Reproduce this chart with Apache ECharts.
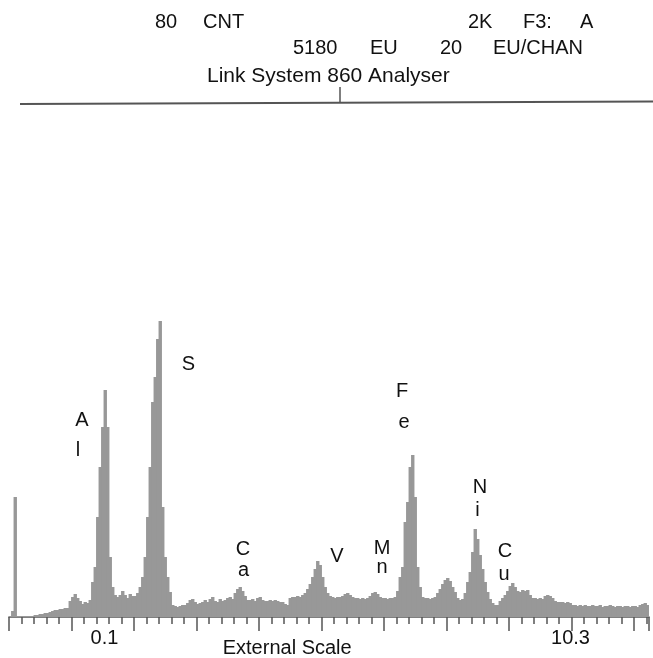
<!DOCTYPE html>
<html><head><meta charset="utf-8">
<script src="https://cdn.jsdelivr.net/npm/echarts@6/dist/echarts.min.js"></script>
<style>html,body{margin:0;padding:0;background:#fff}#c{width:653px;height:658px}</style>
</head><body><div id="c"></div>
<script>
// counts per channel (spectrum histogram)
const counts = [
  1, 6, 120,
  1,1,1,1,1,1,1,2,2,3,
  3,4,4,5,
  6,7,7,8,8,9,9,
  16,20,23,19,16,
  13,15,14,17,
  35,50,100,150,190,227,190,60,30,
  22,20,22,26,22,19,23,21,21,24,
  30,40,60,100,150,215,240,278,296,110,60,40,25,
  12,11,10,11,12,12,14,17,18,15,13,14,15,17,15,18,20,16,15,18,16,17,19,20,
  18,24,28,30,26,21,17,
  17,18,16,19,20,17,16,16,17,16,17,16,15,15,13,12,
  19,20,20,21,20,22,24,
  28,33,40,48,56,52,40,30,24,
  21,20,19,20,20,21,23,24,22,20,19,19,18,19,18,19,
  21,24,25,23,20,
  19,19,18,19,19,20,26,
  40,50,95,115,150,162,120,50,30,
  20,19,19,18,19,20,
  24,28,33,37,39,36,30,25,19,
  17,18,
  24,35,45,65,88,78,62,48,35,25,18,14,12,12,
  16,19,22,26,31,34,30,26,25,27,26,27,22,
  19,19,18,19,18,
  21,22,21,19,
  16,15,15,15,14,15,14,
  12,12,11,12,11,12,11,11,12,11,11,12,10,11,11,12,11,10,11,11,10,11,11,10,11,11,10,12,13,14,12
];
const channels = counts.map((_, i) => String(i));
const header1 = ['80', 'CNT', '2K', 'F3:', 'A'];
const header2 = ['5180', 'EU', '20', 'EU/CHAN'];
const header3 = 'Link System 860 Analyser';
const scaleTickLabels = ['0.1', '10.3'];
const scaleTickChannels = [38.2, 224.6];
const axisName = 'External Scale';
const elementLabels = [['A', 'l'], ['S'], ['C', 'a'], ['V'], ['M', 'n'], ['F', 'e'], ['N', 'i'], ['C', 'u']];

const FONT = '20px "Liberation Sans", Arial, sans-serif';
const chart = echarts.init(document.getElementById('c'), null, {renderer: 'canvas'});

function txt(t, x, y, align) {
  return {type: 'text', style: {text: t, x: x, y: y, font: FONT, fill: '#111', textAlign: align || 'left', textVerticalAlign: 'middle'}, silent: true};
}
const g = [];
const h1x = [155, 203, 468, 523, 580];
header1.forEach((t, i) => g.push(txt(t, h1x[i], 22)));
const h2x = [293, 370, 440, 493];
header2.forEach((t, i) => g.push(txt(t, h2x[i], 48)));
g.push({type: 'text', style: {text: header3, x: 207, y: 76, font: '21px "Liberation Sans", Arial, sans-serif', fill: '#111', textVerticalAlign: 'middle'}, silent: true});
g.push({type: 'line', shape: {x1: 20, y1: 104, x2: 653, y2: 101.5}, style: {stroke: '#555', lineWidth: 2}, silent: true});
g.push({type: 'line', shape: {x1: 340, y1: 87, x2: 340, y2: 103}, style: {stroke: '#555', lineWidth: 1.5}, silent: true});
const elPos = [
  [[82, 420], [78, 450]],
  [[188.5, 364]],
  [[243, 549], [243.5, 570]],
  [[337, 556]],
  [[382, 548], [382, 567]],
  [[402, 391], [404, 422]],
  [[480, 487], [477.5, 510]],
  [[505, 551], [504, 574]]
];
elementLabels.forEach((letters, i) => letters.forEach((l, j) => g.push(txt(l, elPos[i][j][0], elPos[i][j][1], 'center'))));
g.push(txt(axisName, 222.7, 648));

chart.setOption({
  animation: false,
  grid: {left: 9, right: 4, top: 317, bottom: 41},
  xAxis: [
    {type: 'category', data: channels, show: false, boundaryGap: true},
    {type: 'value', min: 0, max: 256, interval: 25, position: 'bottom',
      axisLine: {show: true, lineStyle: {color: '#555', width: 1.5}},
      axisTick: {show: true, length: 14, lineStyle: {color: '#555', width: 1.5}},
      minorTick: {show: true, splitNumber: 5, length: 7, lineStyle: {color: '#555', width: 1.5}},
      axisLabel: {show: false}, splitLine: {show: false}}
  ],
  yAxis: {type: 'value', min: 0, max: 300, show: false, splitLine: {show: false}},
  series: [{type: 'bar', xAxisIndex: 0, data: counts, barWidth: 3.4, barGap: '0%',
    itemStyle: {color: '#989898'}, silent: true}],
  graphic: g
});
const extra = scaleTickLabels.map((t, i) => {
  const px = chart.convertToPixel({xAxisIndex: 1}, scaleTickChannels[i]);
  return txt(t, px, 638, 'center');
});
chart.setOption({graphic: g.concat(extra)});
</script></body></html>
